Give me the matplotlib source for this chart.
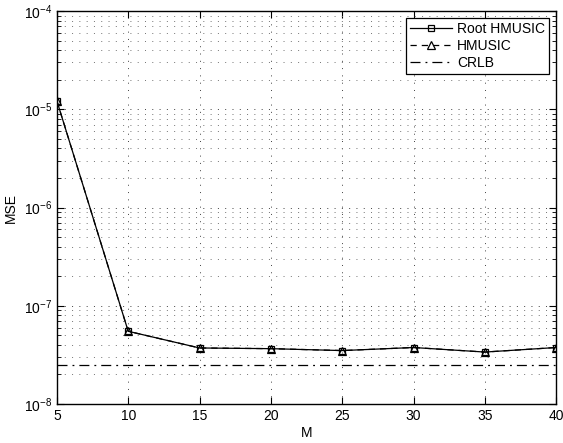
import numpy as np
import matplotlib.pyplot as plt
from matplotlib.ticker import LogLocator, NullFormatter

plt.rcParams['font.family'] = ['Liberation Sans', 'DejaVu Sans']

# data
M = [5, 10, 15, 20, 25, 30, 35, 40]
mse_root = [1.22e-5, 5.5e-8, 3.72e-8, 3.66e-8, 3.5e-8, 3.76e-8, 3.38e-8, 3.76e-8]
mse_hmusic = [1.22e-5, 5.5e-8, 3.72e-8, 3.66e-8, 3.5e-8, 3.76e-8, 3.38e-8, 3.76e-8]
crlb = [2.48e-8] * len(M)

fig = plt.figure(figsize=(5.63, 4.43), dpi=100)
ax = fig.add_axes([0.101, 0.088, 0.887, 0.887])
ax.set_yscale('log')

ax.plot(M, mse_root, color='k', linestyle='-', linewidth=0.9, marker='s',
        markersize=5, markerfacecolor='none', markeredgewidth=0.9, label='Root HMUSIC')
ax.plot(M, mse_hmusic, color='k', linestyle=(0, (5, 4)), linewidth=0.9, marker='^',
        markersize=6, markerfacecolor='none', markeredgewidth=0.9, label='HMUSIC')
ax.plot(M, crlb, color='k', linestyle=(0, (8, 4, 1.5, 4)), linewidth=0.9, label='CRLB')

ax.set_xlim(5, 40)
ax.set_ylim(1e-8, 1e-4)
ax.set_xticks([5, 10, 15, 20, 25, 30, 35, 40])
ax.yaxis.set_major_locator(LogLocator(base=10, numticks=10))
ax.yaxis.set_minor_locator(LogLocator(base=10, subs=np.arange(2, 10), numticks=10))
ax.yaxis.set_minor_formatter(NullFormatter())

ax.grid(which='major', linestyle=(0, (1, 6.5)), color='0.25', linewidth=0.7)
ax.grid(which='minor', axis='y', linestyle=(0, (1, 6.5)), color='0.45', linewidth=0.7)

ax.tick_params(direction='in', which='both', top=True, right=True, labelsize=10)
ax.tick_params(which='major', length=5)
ax.tick_params(which='minor', length=3)
for s in ax.spines.values():
    s.set_linewidth(1.0)

ax.set_xlabel('M', fontsize=10, labelpad=2)
ax.set_ylabel('MSE', fontsize=10, labelpad=4)

leg = ax.legend(loc='upper right', fontsize=10, frameon=True, fancybox=False,
                edgecolor='k', framealpha=1, borderpad=0.3, labelspacing=0.2,
                handlelength=3, handletextpad=0.4, borderaxespad=0.5)
leg.get_frame().set_linewidth(0.9)

fig.savefig('out.png', dpi=100)
